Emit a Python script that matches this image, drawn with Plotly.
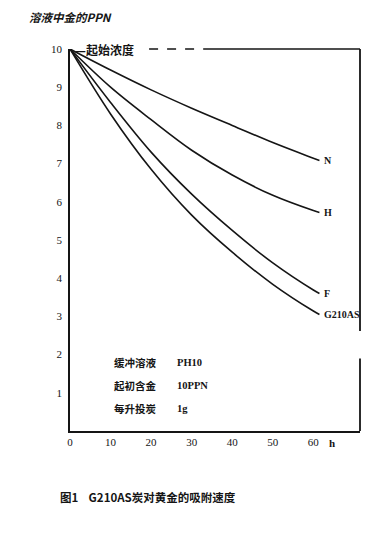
import plotly.graph_objects as go

# ---- data ----
hours = [0, 10, 20, 30, 40, 50, 60, 61.5]
series_names = ["N", "H", "F", "G210AS"]
conc_N = [10, 9.45, 8.93, 8.45, 8.0, 7.55, 7.14, 7.08]
conc_H = [10, 9.0, 8.15, 7.35, 6.7, 6.17, 5.77, 5.72]
conc_F = [10, 8.6, 7.3, 6.2, 5.25, 4.4, 3.69, 3.6]
conc_G = [10, 8.3, 6.85, 5.65, 4.68, 3.84, 3.14, 3.05]
x_ticks = [0, 10, 20, 30, 40, 50, 60]
y_ticks = [1, 2, 3, 4, 5, 6, 7, 8, 9, 10]
notes_left = ["缓冲溶液", "起初含金", "每升投炭"]
notes_right = ["PH10", "10PPN", "1g"]

INK = "#151515"
CJK = "Noto Sans CJK SC"
SERIF = "Liberation Serif"
XMAX = 71.5

fig = go.Figure()
for name, ys in zip(series_names, [conc_N, conc_H, conc_F, conc_G]):
    fig.add_trace(go.Scatter(x=hours, y=ys, mode="lines", name=name,
                             line=dict(color=INK, width=1.6, shape="spline", smoothing=1.0),
                             cliponaxis=False, showlegend=False))
    fig.add_annotation(x=hours[-1], y=ys[-1], text="<b>%s</b>" % name, showarrow=False,
                       xanchor="left", yanchor="middle", xshift=3,
                       font=dict(family=SERIF, size=10, color=INK))

# top border: dashed then solid (paper coords so not clipped)
fig.add_shape(type="line", xref="paper", yref="paper", x0=19.5 / XMAX, x1=33 / XMAX,
              y0=1, y1=1, line=dict(color=INK, width=1.3, dash="dash"))
fig.add_shape(type="line", xref="paper", yref="paper", x0=33 / XMAX, x1=1,
              y0=1, y1=1, line=dict(color=INK, width=1.5))
# right border with a gap
fig.add_shape(type="line", xref="paper", yref="paper", x0=1, x1=1, y0=1, y1=0.262,
              line=dict(color=INK, width=1.8))
fig.add_shape(type="line", xref="paper", yref="paper", x0=1, x1=1, y0=0.19, y1=0,
              line=dict(color=INK, width=1.8))

# start-concentration label
fig.add_annotation(x=0.8, y=10, text="<b>—起始浓度</b>", showarrow=False,
                   xanchor="left", yanchor="middle",
                   font=dict(family=CJK, size=12, color=INK))

# condition notes
for i, (a, b) in enumerate(zip(notes_left, notes_right)):
    yv = 1.8 - i * 0.6
    fig.add_annotation(x=10.3, y=yv, text="<b>%s</b>" % a, showarrow=False,
                       xanchor="left", yanchor="middle",
                       font=dict(family=CJK, size=10.5, color=INK))
    fig.add_annotation(x=26, y=yv, text="<b>%s</b>" % b, showarrow=False,
                       xanchor="left", yanchor="middle",
                       font=dict(family=SERIF, size=10.5, color=INK))

# unit h
fig.add_annotation(x=64.5, y=0, text="<b>h</b>", showarrow=False, xanchor="center",
                   yanchor="top", yshift=-4, font=dict(family=SERIF, size=11, color=INK))

# y-axis title
fig.add_annotation(xref="paper", yref="paper", x=-0.15, y=1.0, yshift=32,
                   text="<b><i>溶液中金的PPN</i></b>", showarrow=False,
                   xanchor="left", yanchor="middle",
                   font=dict(family=CJK, size=11.5, color=INK))

# caption
fig.add_annotation(xref="paper", yref="paper", x=-0.04, y=0, yshift=-66,
                   text="<b>图1</b>    <b>G210AS炭对黄金的吸附速度</b>", showarrow=False,
                   xanchor="left", yanchor="middle",
                   font=dict(family=CJK, size=11.5, color=INK))

fig.update_layout(
    width=380, height=526,
    margin=dict(l=62, r=28, t=41, b=103),
    paper_bgcolor="white", plot_bgcolor="white",
    xaxis=dict(range=[0, XMAX], tickvals=x_ticks, showgrid=False, zeroline=False,
               showline=True, linecolor=INK, linewidth=1.8, ticks="",
               tickfont=dict(family=SERIF, size=11, color=INK)),
    yaxis=dict(range=[0, 10], tickvals=y_ticks, showgrid=False, zeroline=False,
               showline=True, linecolor=INK, linewidth=1.8, ticks="",
               ticklabelstandoff=4,
               tickfont=dict(family=SERIF, size=11, color=INK)),
)

fig.write_html("out.html")
